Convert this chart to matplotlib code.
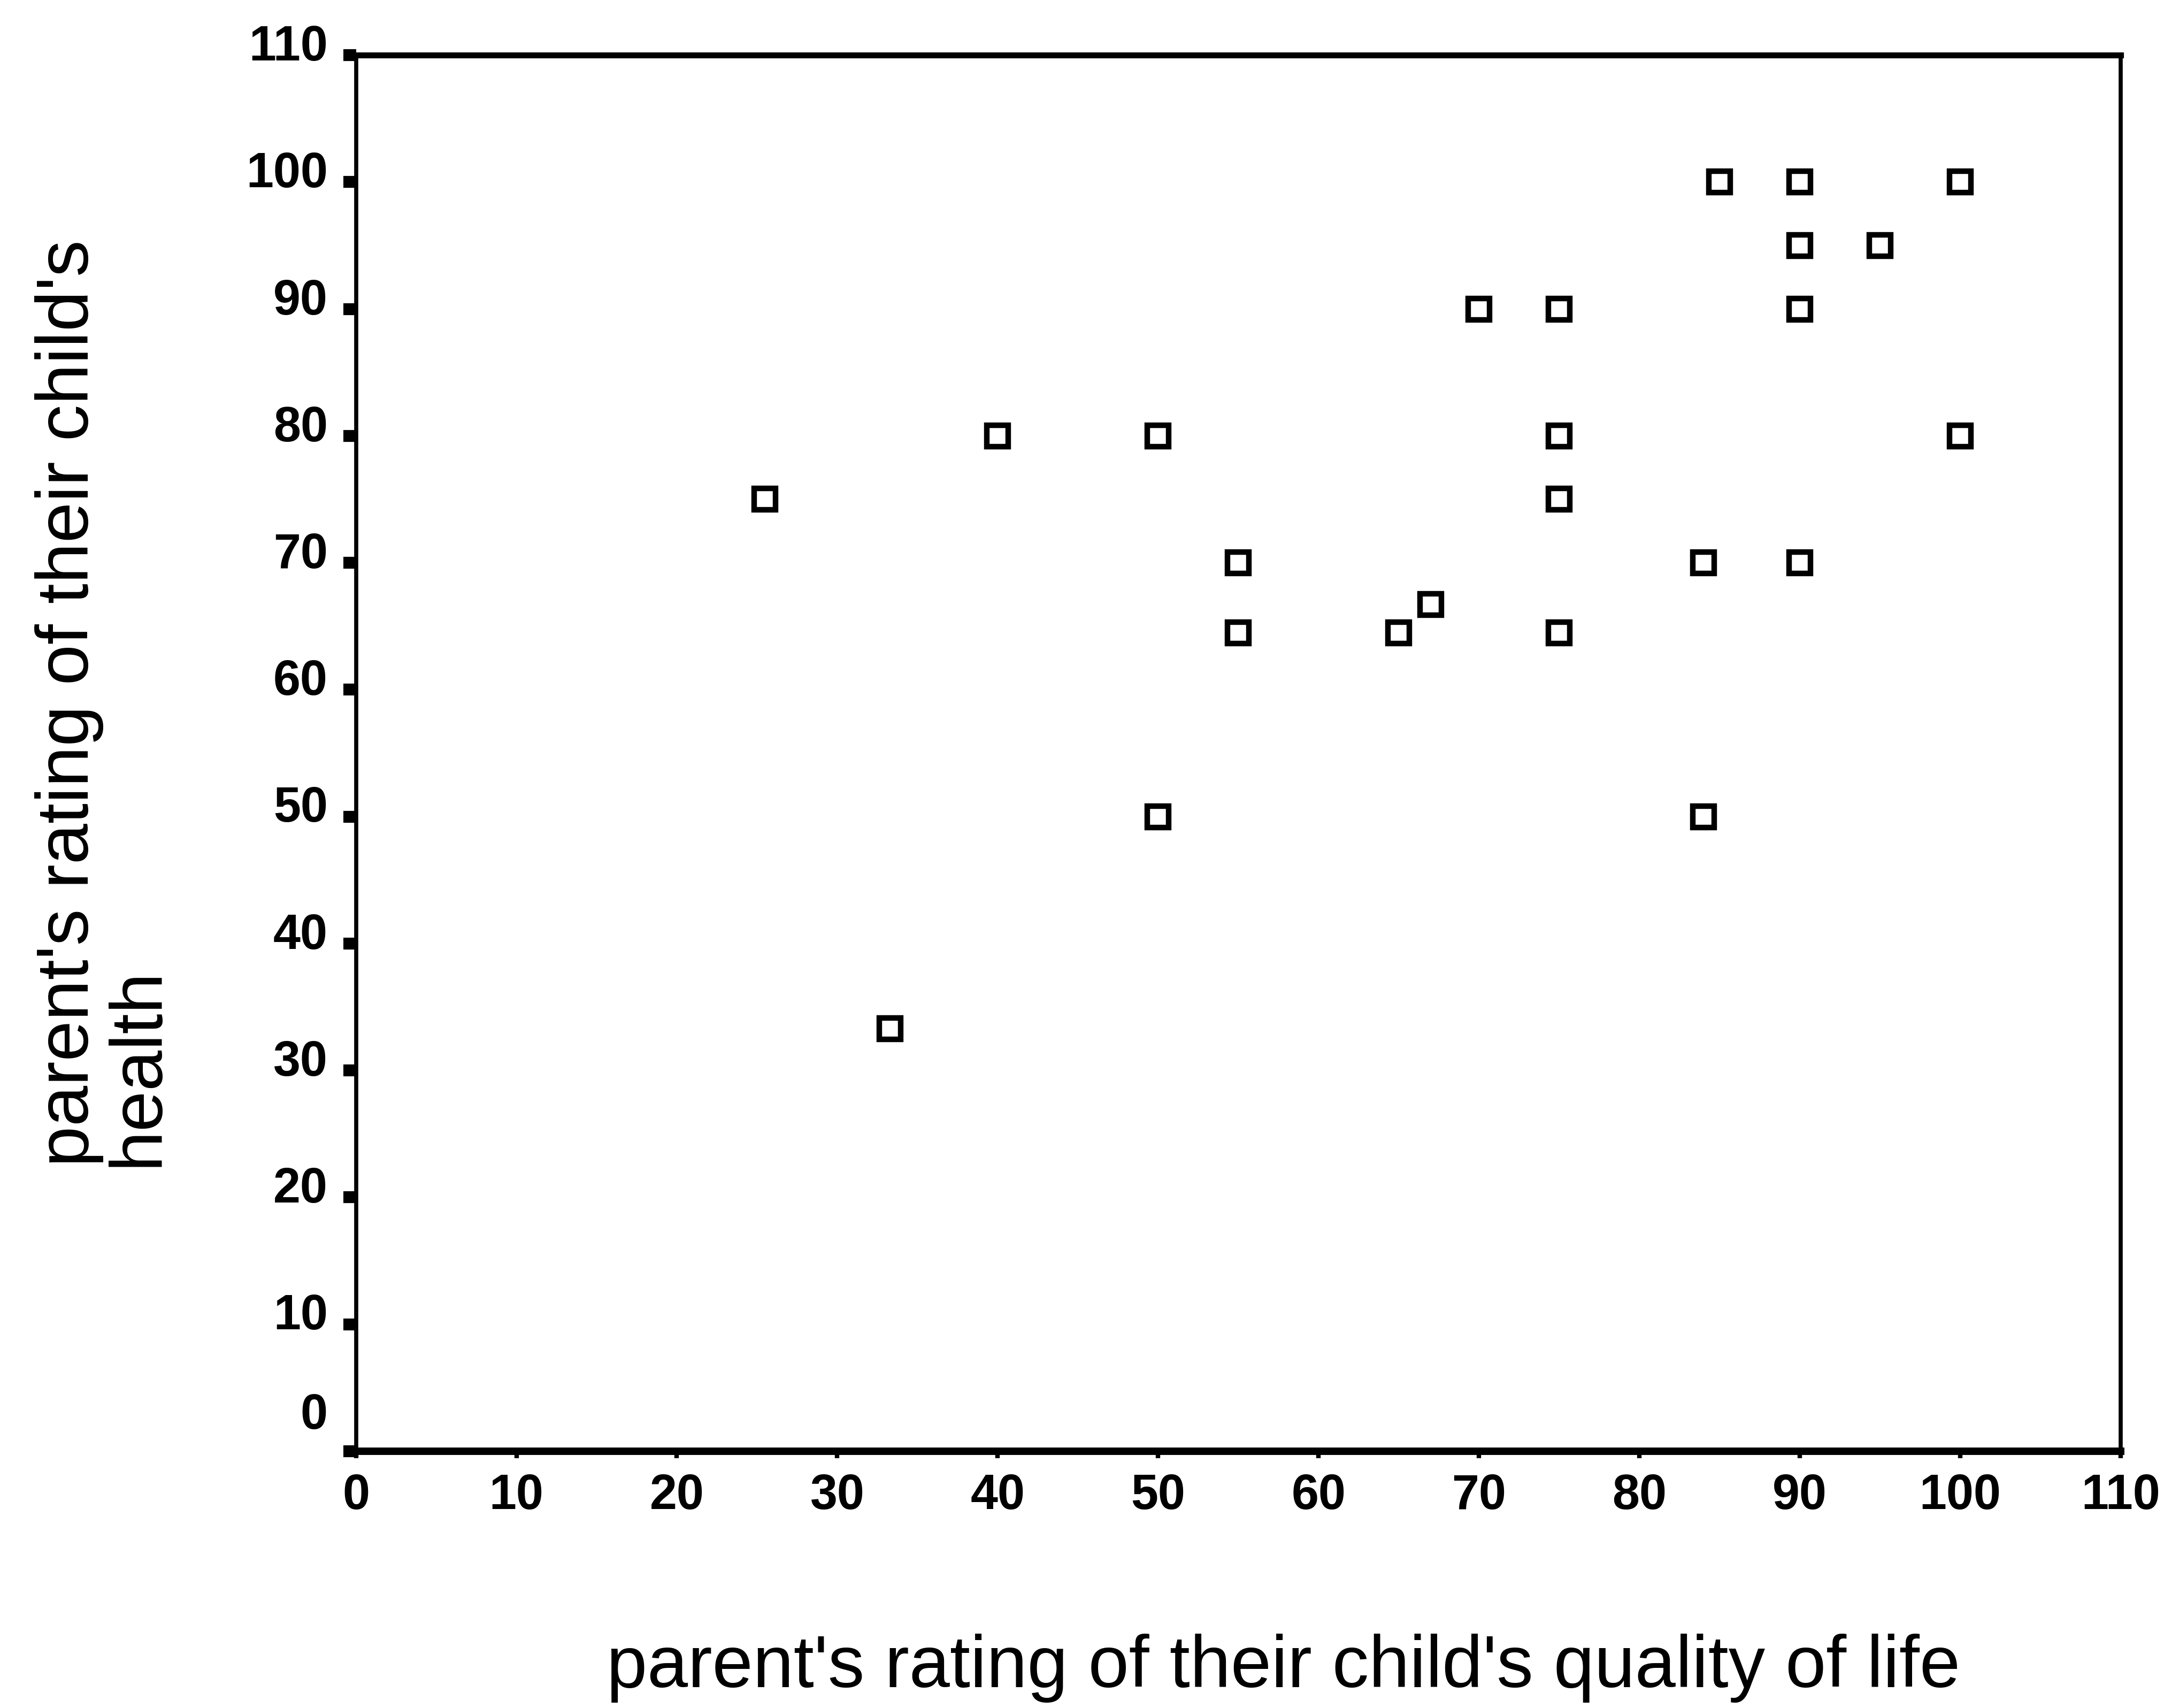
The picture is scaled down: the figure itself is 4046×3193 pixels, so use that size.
import numpy as np
import matplotlib
matplotlib.use('Agg')
import matplotlib.pyplot as plt
from matplotlib.transforms import ScaledTranslation

# DATA (read from the scanned scatterplot)
qol = [25.5, 33.3, 40, 50, 50, 55, 55, 65, 67, 70, 75, 75, 75, 75,
       84, 84, 85, 90, 90, 90, 90, 95, 100, 100]
health = [75, 33.3, 80, 80, 50, 70, 64.5, 64.5, 66.7, 90, 90, 80, 75, 64.5,
          70, 50, 100, 100, 95, 90, 70, 95, 100, 80]
ticks = list(range(0, 111, 10))

plt.rcParams['font.family'] = ['Liberation Sans', 'DejaVu Sans']

fig = plt.figure(figsize=(40.46, 31.93), dpi=100)
ax = fig.add_axes([0.1645, 0.1504, 0.8155, 0.8173])

ax.plot(qol, health, linestyle='none', marker='s', markersize=29,
        markerfacecolor='white', markeredgecolor='black', markeredgewidth=7.5)

ax.set_xlim(0, 110)
ax.set_ylim(0, 110)
ax.set_xticks(ticks)
ax.set_yticks(ticks)
ax.tick_params(axis='y', direction='out', length=17, width=16, pad=21, labelsize=66)
ax.tick_params(axis='x', direction='out', length=9, width=6, pad=21, labelsize=66)
for lab in ax.get_xticklabels() + ax.get_yticklabels():
    lab.set_fontweight('bold')

# spines - heavier top/bottom like the scan
ax.spines['bottom'].set_linewidth(10)
ax.spines['top'].set_linewidth(8)
ax.spines['left'].set_linewidth(5.5)
ax.spines['right'].set_linewidth(5.5)

# y tick labels sit a bit above their ticks, the 0 label well above
for lab, t in zip(ax.get_yticklabels(), ticks):
    dy = 54 if t == 0 else 17
    lab.set_transform(lab.get_transform() + ScaledTranslation(0, dy / 72, fig.dpi_scale_trans))

fig.text(0.593, 0.0234, "parent's rating of their child's quality of life",
         ha='center', va='center', fontsize=98.5)
fig.text(0.048, 0.317, "parent's rating of their child's\nhealth",
         rotation=90, ha='center', va='bottom', multialignment='left',
         linespacing=1.0, fontsize=98.5)

fig.savefig('out.png', dpi=100, facecolor='white')
